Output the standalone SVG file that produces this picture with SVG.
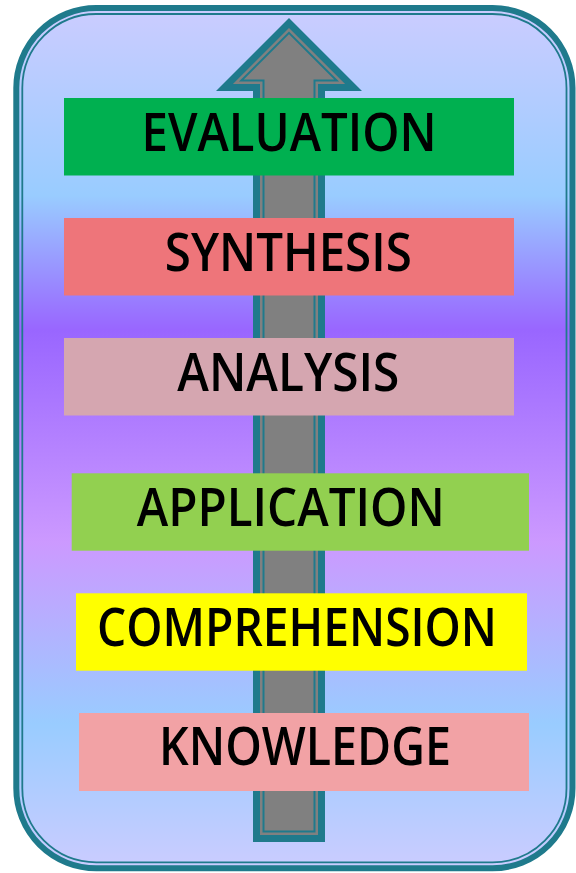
<svg xmlns="http://www.w3.org/2000/svg" width="576" height="873" viewBox="0 0 576 873">
<defs>
<linearGradient id="bg" x1="0" y1="5" x2="0" y2="871" gradientUnits="userSpaceOnUse">
<stop offset="0" stop-color="#CCCCFF"/>
<stop offset="0.22" stop-color="#99CCFF"/>
<stop offset="0.375" stop-color="#9966FF"/>
<stop offset="0.62" stop-color="#CC99FF"/>
<stop offset="0.83" stop-color="#99CCFF"/>
<stop offset="1" stop-color="#CCCCFF"/>
</linearGradient>
<style>
.lbl{font-family:"Open Sans","Noto Sans","Liberation Sans",sans-serif;font-size:52px;font-weight:600;fill:#000;text-anchor:middle}
.teal{stroke:#1F7A8C;stroke-linejoin:miter}
</style>
</defs>
<g id="frame">
<rect x="16.3" y="8" width="556.2" height="860.3" rx="80" ry="80" fill="url(#bg)" class="teal" stroke-width="6"/>
<rect x="22.3" y="14" width="544.2" height="848.3" rx="74" ry="74" fill="none" class="teal" stroke-width="1.8"/>
</g>
<g id="connectors">
<path d="M289,22.95 L353.55,87.5 L321.5,87.5 L321.5,838.5 L256.5,838.5 L256.5,87.5 L224.45,87.5 Z" fill="#808080" class="teal" stroke-width="7"/>
<path d="M289,32.85 L336.65,80.5 L314.5,80.5 L314.5,831.5 L263.5,831.5 L263.5,80.5 L241.35,80.5 Z" fill="none" class="teal" stroke-width="2"/>
</g>
<g id="evaluation">
<rect x="64" y="98" width="450" height="77.5" fill="#00B050"/>
<text class="lbl" x="289" y="151" textLength="295" lengthAdjust="spacingAndGlyphs">EVALUATION</text>
</g>
<g id="synthesis">
<rect x="64" y="218" width="450" height="77.5" fill="#EE757A"/>
<text class="lbl" x="288.3" y="271" textLength="247" lengthAdjust="spacingAndGlyphs">SYNTHESIS</text>
</g>
<g id="analysis">
<rect x="64" y="338" width="450" height="77.5" fill="#D5A6B0"/>
<text class="lbl" x="288.3" y="391" textLength="222" lengthAdjust="spacingAndGlyphs">ANALYSIS</text>
</g>
<g id="application">
<rect x="71.7" y="473.3" width="457.3" height="77.4" fill="#92D050"/>
<text class="lbl" x="290.8" y="526" textLength="308" lengthAdjust="spacingAndGlyphs">APPLICATION</text>
</g>
<g id="comprehension">
<rect x="76" y="593.3" width="451" height="77.4" fill="#FFFF00"/>
<text class="lbl" x="297" y="646" textLength="400" lengthAdjust="spacingAndGlyphs">COMPREHENSION</text>
</g>
<g id="knowledge">
<rect x="79" y="713" width="450" height="78" fill="#F2A2A5"/>
<text class="lbl" x="305" y="765" textLength="292" lengthAdjust="spacingAndGlyphs">KNOWLEDGE</text>
</g>
</svg>
